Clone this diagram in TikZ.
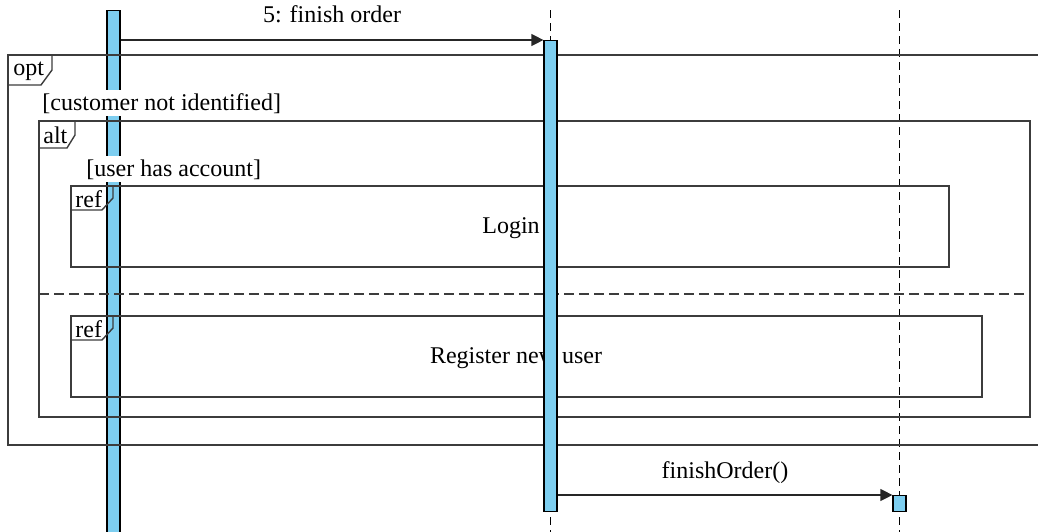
\documentclass[tikz,border=0pt]{standalone}
\usepackage{fontspec}
\setmainfont{Liberation Serif}
\usetikzlibrary{arrows.meta}
\definecolor{barblue}{RGB}{125,206,240}
\definecolor{frameline}{RGB}{60,60,60}
\tikzset{
  actbar/.style={draw=black, fill=barblue, line width=0.6pt, inner sep=0pt, minimum width=6.5pt, anchor=north},
  lifeline/.style={draw=black, line width=0.65pt, dash pattern=on 4pt off 2.5pt},
  frame/.style={draw=frameline, line width=0.7pt},
  guard/.style={fill=white, inner sep=1.5pt, anchor=base west},
  tagtext/.style={inner sep=0pt, anchor=base west},
  msg/.style={draw=black!85, line width=0.6pt, -{Triangle[length=6pt,width=6pt]}},
}
\begin{document}
\begin{tikzpicture}[x=0.5pt,y=-0.5pt,font=\fontsize{12}{14}\selectfont]
  \useasboundingbox (0,0) rectangle (1038,531);
  % lifelines
  \coordinate (llM) at (550.5,10);
  \coordinate (llR) at (899.5,10);
  \draw[lifeline] (llM) -- ++(0,525);
  \draw[lifeline] (llR) -- ++(0,525);
  \node[actbar, minimum height=265pt] (barL) at (113.5,10) {};
  % opt fragment
  \draw[frame] (1045,55) -- (8,55) -- (8,445) -- (1045,445);
  \draw[frame] (8,55) -- ++(44,0) -- ++(0,15) -- ++(-11,15) -- ++(-33,0);
  \node[tagtext] (optTag) at (13,75) {opt};
  % alt fragment
  \draw[frame] (39,121) rectangle (1030,417);
  \draw[frame] (39,121) -- ++(36,0) -- ++(0,14) -- ++(-8,13) -- ++(-28,0);
  \node[tagtext] (altTag) at (43,143) {alt};
  \draw[frame, dash pattern=on 5pt off 2.5pt] (39,294) -- (1030,294);
  % ref login
  \draw[frame] (71,186) rectangle (949,267);
  \draw[frame] (71,186) -- ++(42,0) -- ++(0,12) -- ++(-11,12) -- ++(-31,0);
  \node[tagtext] (refTagA) at (75,207) {ref};
  \node[anchor=base] (login) at (511,233) {Login};
  % ref register
  \draw[frame] (71,316) rectangle (982,397);
  \draw[frame] (71,316) -- ++(42,0) -- ++(0,12) -- ++(-11,12) -- ++(-31,0);
  \node[tagtext] (refTagB) at (75,337) {ref};
  \node[anchor=base] (register) at (516,363) {Register new user};
  % guards
  \node[guard] (guardOpt) at (39,110) {[customer not identified]};
  \node[guard] (guardAlt) at (83,176) {[user has account]};
  % activations
  \node[actbar, minimum height=235.5pt] (barM) at (llM |- 0,40) {};
  \node[actbar, minimum height=8pt] (barR) at (llR |- 0,495) {};
  % messages
  \draw[msg] (barL.east |- barM.north west) -- (barM.north west)
    node[midway, above=8.5pt, inner sep=0pt] (msgFinish) {5: finish order};
  \draw[msg] (barM.east |- barR.north west) -- (barR.north west)
    node[midway, above=5.5pt, inner sep=0pt] (msgOrder) {finishOrder()};
\end{tikzpicture}
\end{document}
